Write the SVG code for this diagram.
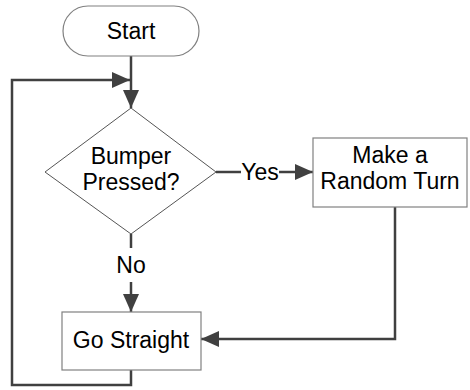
<svg xmlns="http://www.w3.org/2000/svg" width="470" height="390" viewBox="0 0 470 390">
<style>
.shape{fill:#fff;stroke:#808080;stroke-width:1.2}
.dia{fill:#fff;stroke:#555;stroke-width:1}
.t{font-family:"Liberation Sans","Arial",sans-serif;font-size:23px;fill:#000;text-anchor:middle}
.c{fill:none;stroke:#404040;stroke-width:2.5}
</style>
<defs>
<marker id="ah" markerUnits="userSpaceOnUse" markerWidth="18" markerHeight="16" refX="18" refY="8" orient="auto">
<path d="M0,0 L18,8 L0,16 Z" fill="#404040"/>
</marker>
</defs>
<g id="connectors">
<path class="c" d="M131,56 L131,108" marker-end="url(#ah)"/>
<path class="c" d="M131,370 L131,385 L12,385 L12,80 L130,80" marker-end="url(#ah)"/>
<path class="c" d="M216,172 L241,172"/>
<path class="c" d="M279,172 L313,172" marker-end="url(#ah)"/>
<text class="t" x="260" y="180">Yes</text>
<path class="c" d="M131,234 L131,248"/>
<text class="t" x="131" y="273">No</text>
<path class="c" d="M131,282 L131,312" marker-end="url(#ah)"/>
<path class="c" d="M395,207 L395,339 L201,339" marker-end="url(#ah)"/>
</g>
<g id="start">
<rect class="shape" x="63" y="6" width="136" height="50" rx="25" ry="25"/>
<text class="t" x="131" y="39">Start</text>
</g>
<g id="bumper">
<path class="dia" d="M131,108 L216,172 L131,234 L45,172 Z"/>
<text class="t" x="131" y="164">Bumper</text>
<text class="t" x="131" y="190">Pressed?</text>
</g>
<g id="turn">
<rect class="shape" x="313" y="138" width="154" height="69"/>
<text class="t" x="390" y="163">Make a</text>
<text class="t" x="390" y="189">Random Turn</text>
</g>
<g id="straight">
<rect class="shape" x="62" y="312" width="139" height="58"/>
<text class="t" x="131" y="348">Go Straight</text>
</g>
</svg>
